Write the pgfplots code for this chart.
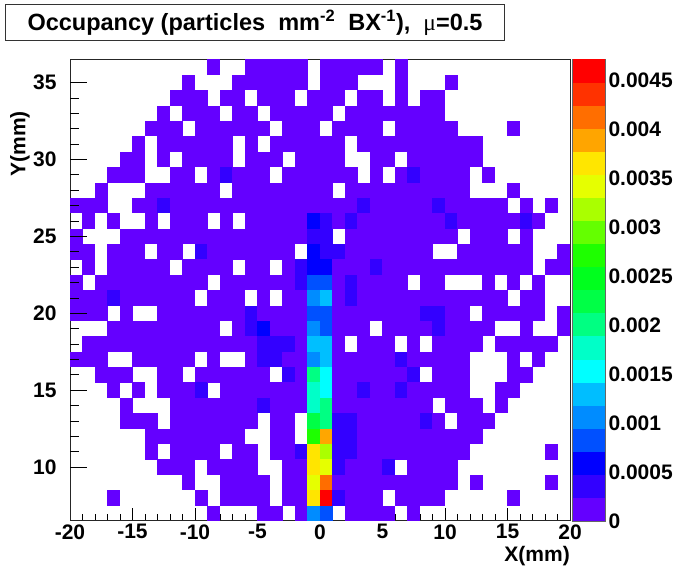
\documentclass[border=0pt]{standalone}
\usepackage{fontspec}
\setmainfont{Liberation Sans}
\newfontfamily\symfont{Liberation Serif}
\usepackage{pgfplots}
\usepackage{pgfplotstable}
\pgfplotsset{compat=1.18}
\pgfdeclareplotmark{cell}{\pgfpathrectangle{\pgfpoint{-6.3pt}{-7.75pt}}{\pgfpoint{12.6pt}{15.5pt}}\pgfusepathqfill}
\pgfdeclareplotmark{band}{\pgfpathrectangle{\pgfpoint{-16.25pt}{-11.6pt}}{\pgfpoint{32.5pt}{23.2pt}}\pgfusepathqfill}
\pgfplotsset{rootpal/.style={colormap={rootpal}{
 rgb255=(100,0,255) rgb255=(50,0,255) rgb255=(0,0,255) rgb255=(0,80,255) rgb255=(0,140,255)
 rgb255=(0,190,255) rgb255=(0,255,255) rgb255=(0,255,200) rgb255=(0,255,130) rgb255=(0,255,70)
 rgb255=(0,255,30) rgb255=(30,255,0) rgb255=(100,255,0) rgb255=(170,255,0) rgb255=(230,255,0)
 rgb255=(255,230,0) rgb255=(255,165,0) rgb255=(255,110,0) rgb255=(255,50,0) rgb255=(255,0,0)},
 point meta min=1.18, point meta max=45.99}}
% occupancy in units of 1e-4 particles mm^-2 BX^-1; 0 = empty bin; rows are Y bins, columns c0..c39 are X bins from -19.5 to 19.5
\pgfplotstableread{
y c0 c1 c2 c3 c4 c5 c6 c7 c8 c9 c10 c11 c12 c13 c14 c15 c16 c17 c18 c19 c20 c21 c22 c23 c24 c25 c26 c27 c28 c29 c30 c31 c32 c33 c34 c35 c36 c37 c38 c39
36 0 0 0 0 0 0 0 0 0 0  0 1.2 0 0 1.2 1.2 1.2 1.2 1.2 0  1.2 1.2 1.2 1.2 1.2 0 1.2 0 0 0  0 0 0 0 0 0 0 0 0 0
35 0 0 0 0 0 0 0 0 0 1.2  0 0 0 1.2 1.2 1.2 1.2 1.2 1.2 0  1.2 1.2 1.2 0 0 0 1.2 0 0 0  1.2 0 0 0 0 0 0 0 0 0
34 0 0 0 0 0 0 0 0 1.2 1.2  1.2 0 1.2 1.2 0 1.2 1.2 1.2 0 1.2  1.2 1.2 0 1.2 1.2 0 1.2 0 1.2 1.2  0 0 0 0 0 0 0 0 0 0
33 0 0 0 0 0 0 0 1.2 0 1.2  1.2 1.2 0 1.2 1.2 0 1.2 1.2 1.2 1.2  1.2 0 1.2 1.2 1.2 1.2 1.2 1.2 1.2 1.2  0 0 0 0 0 0 0 0 0 0
32 0 0 0 0 0 0 1.2 1.2 1.2 0  1.2 1.2 1.2 1.2 1.2 1.2 0 1.2 1.2 1.2  0 1.2 1.2 1.2 1.2 0 1.2 1.2 1.2 1.2  1.2 0 0 0 0 1.2 0 0 0 0
31 0 0 0 0 0 1.2 0 1.2 1.2 1.2  1.2 1.2 1.2 0 1.2 0 1.2 1.2 1.2 1.2  1.2 1.2 0 1.2 1.2 1.2 1.2 1.2 1.2 1.2  1.2 1.2 1.2 0 0 0 0 0 0 0
30 0 0 0 0 1.2 1.2 0 1.2 0 1.2  1.2 1.2 1.2 0 1.2 1.2 1.2 0 1.2 1.2  1.2 1.2 0 0 1.2 1.2 0 1.2 1.2 1.2  1.2 1.2 1.2 0 0 0 0 0 0 0
29 0 0 0 1.2 1.2 1.2 0 0 1.2 1.2  0 1.2 3.5 1.2 1.2 1.2 0 1.2 1.2 1.2  1.2 1.2 1.2 0 1.2 0 1.2 3.5 1.2 1.2  1.2 1.2 0 1.2 0 0 0 0 0 0
28 0 0 1.2 0 0 0 1.2 1.2 1.2 1.2  1.2 1.2 0 1.2 1.2 1.2 1.2 1.2 1.2 1.2  1.2 0 1.2 1.2 1.2 1.2 1.2 1.2 1.2 1.2  1.2 1.2 0 0 0 1.2 0 0 0 0
27 1.2 1.2 1.2 0 0 1.2 1.2 3.5 1.2 1.2  1.2 1.2 1.2 1.2 1.2 1.2 1.2 1.2 1.2 1.2  1.2 1.2 1.2 3.5 1.2 1.2 1.2 1.2 1.2 3.5  1.2 1.2 1.2 1.2 1.2 0 1.2 0 1.2 0
26 0 1.2 0 1.2 0 0 1.2 0 1.2 1.2  1.2 0 1.2 0 1.2 1.2 1.2 1.2 1.2 5.9  3.5 1.2 3.5 1.2 1.2 1.2 1.2 1.2 1.2 1.2  3.5 1.2 1.2 1.2 1.2 1.2 3.5 1.2 0 0
25 1.2 0 0 0 1.2 1.2 1.2 1.2 1.2 1.2  1.2 1.2 1.2 1.2 1.2 1.2 1.2 1.2 1.2 3.5  3.5 0 1.2 1.2 1.2 1.2 1.2 1.2 1.2 1.2  1.2 0 1.2 1.2 1.2 0 1.2 0 0 0
24 1.2 1.2 0 1.2 1.2 1.2 0 1.2 1.2 0  3.5 1.2 1.2 1.2 1.2 1.2 1.2 1.2 0 5.9  3.5 3.5 1.2 1.2 1.2 1.2 1.2 1.2 1.2 0  0 1.2 1.2 1.2 1.2 1.2 1.2 0 0 1.2
23 0 1.2 0 1.2 1.2 1.2 1.2 1.2 0 1.2  1.2 1.2 1.2 0 1.2 1.2 0 1.2 3.5 5.9  5.9 1.2 1.2 1.2 3.5 1.2 1.2 1.2 1.2 1.2  1.2 1.2 1.2 1.2 1.2 1.2 1.2 0 1.2 1.2
22 1.2 0 1.2 1.2 1.2 1.2 1.2 1.2 1.2 1.2  1.2 0 1.2 1.2 1.2 1.2 1.2 1.2 3.5 8.3  8.3 1.2 3.5 1.2 1.2 1.2 1.2 0 1.2 1.2  0 0 0 1.2 0 1.2 0 1.2 0 0
21 1.2 1.2 1.2 3.5 1.2 1.2 1.2 1.2 1.2 1.2  0 1.2 1.2 1.2 0 1.2 0 1.2 1.2 10.6  13 1.2 3.5 1.2 1.2 1.2 1.2 1.2 1.2 1.2  1.2 1.2 1.2 1.2 1.2 0 1.2 1.2 0 0
20 1.2 1.2 1.2 0 1.2 0 0 1.2 1.2 1.2  1.2 1.2 1.2 1.2 3.5 1.2 1.2 1.2 1.2 8.3  8.3 1.2 1.2 1.2 1.2 1.2 1.2 1.2 3.5 3.5  1.2 1.2 0 1.2 1.2 1.2 1.2 1.2 0 1.2
19 0 0 0 1.2 1.2 1.2 1.2 1.2 1.2 1.2  1.2 1.2 0 1.2 3.5 5.9 1.2 1.2 1.2 10.6  8.3 1.2 1.2 1.2 0 1.2 1.2 1.2 1.2 3.5  1.2 1.2 1.2 1.2 0 0 1.2 0 0 1.2
18 0 1.2 1.2 1.2 1.2 1.2 1.2 1.2 1.2 1.2  1.2 1.2 1.2 1.2 1.2 3.5 3.5 3.5 1.2 13  13 1.2 0 1.2 1.2 1.2 0 1.2 0 1.2  1.2 1.2 1.2 0 1.2 1.2 1.2 1.2 1.2 0
17 1.2 1.2 1.2 0 0 1.2 1.2 1.2 1.2 1.2  0 1.2 0 0 1.2 3.5 3.5 1.2 1.2 10.6  13 1.2 1.2 1.2 1.2 1.2 3.5 1.2 1.2 1.2  1.2 1.2 0 0 0 1.2 0 1.2 0 0
16 0 0 1.2 1.2 1.2 0 0 1.2 1.2 0  1.2 1.2 1.2 1.2 1.2 1.2 0 3.5 1.2 20  15.3 1.2 1.2 1.2 1.2 1.2 1.2 3.5 0 1.2  1.2 1.2 0 0 0 1.2 1.2 0 0 0
15 0 0 0 1.2 0 1.2 0 1.2 1.2 1.2  3.5 0 1.2 1.2 1.2 1.2 1.2 1.2 1.2 17.7  15.3 1.2 1.2 3.5 1.2 1.2 3.5 1.2 1.2 1.2  1.2 1.2 0 0 1.2 1.2 0 0 0 0
14 0 0 0 0 1.2 0 0 0 1.2 1.2  1.2 1.2 1.2 1.2 1.2 3.5 1.2 1.2 1.2 17.7  20 1.2 1.2 1.2 1.2 1.2 1.2 1.2 1.2 0  1.2 1.2 1.2 0 1.2 0 0 0 0 0
13 0 0 0 0 1.2 1.2 1.2 0 1.2 1.2  1.2 1.2 1.2 1.2 1.2 0 1.2 1.2 0 22.4  20 3.5 3.5 1.2 1.2 1.2 1.2 1.2 3.5 1.2  0 1.2 1.2 1.2 0 0 0 0 0 0
12 0 0 0 0 0 0 1.2 1.2 1.2 1.2  1.2 1.2 1.2 1.2 0 0 1.2 1.2 0 27.1  38.9 3.5 3.5 1.2 1.2 1.2 1.2 1.2 1.2 1.2  1.2 1.2 1.2 0 0 0 0 0 0 0
11 0 0 0 0 0 0 1.2 0 1.2 1.2  1.2 1.2 0 1.2 1.2 0 1.2 1.2 3.5 36.6  31.9 3.5 3.5 1.2 1.2 1.2 1.2 1.2 1.2 1.2  1.2 1.2 0 0 0 0 0 0 1.2 0
10 0 0 0 0 0 0 0 1.2 1.2 1.2  0 1.2 1.2 1.2 1.2 0 0 1.2 1.2 36.6  34.2 3.5 1.2 1.2 1.2 3.5 0 1.2 1.2 1.2  1.2 0 0 0 0 0 0 0 0 0
9 0 0 0 0 0 0 0 0 0 1.2  0 0 1.2 1.2 1.2 1.2 0 1.2 1.2 34.2  41.3 1.2 1.2 1.2 1.2 1.2 1.2 1.2 1.2 1.2  1.2 0 1.2 0 0 0 0 0 1.2 0
8 0 0 0 1.2 0 0 0 0 0 0  1.2 0 1.2 1.2 1.2 1.2 0 1.2 1.2 36.6  46 3.5 1.2 1.2 1.2 0 1.2 1.2 1.2 1.2  0 0 0 0 0 1.2 0 0 0 0
7 0 0 0 0 0 0 0 0 0 0  0 1.2 0 0 0 1.2 1.2 0 1.2 10.6  8.3 0 1.2 1.2 1.2 1.2 0 1.2 0 0  0 0 0 0 0 0 0 0 0 0
}\occtable
\pgfplotstableread{
y meta
0.000118 1.18
0.000354 3.54
0.000590 5.90
0.000825 8.25
0.001061 10.61
0.001297 12.97
0.001533 15.33
0.001769 17.69
0.002005 20.05
0.002241 22.41
0.002476 24.76
0.002712 27.12
0.002948 29.48
0.003184 31.84
0.003420 34.20
0.003656 36.56
0.003892 38.92
0.004128 41.28
0.004363 43.63
0.004599 45.99
}\scaletable
\newcommand\tickfont{\fontsize{21}{24}\selectfont\bfseries}
\begin{document}
\begin{tikzpicture}[x=1pt,y=1pt]
\path[use as bounding box] (0,0) rectangle (676,569);
% main map, with the x ticks
\begin{axis}[
  at={(70pt,48pt)}, anchor=south west, scale only axis, width=500pt, height=461.5pt,
  rootpal, xmin=-20, xmax=20, ymin=6.5, ymax=36.5,
  axis on top, clip=true, tick align=inside, tick style={black, line width=0.8pt},
  axis line style={line width=1pt, black!85},
  xtick={-20,-15,-10,-5,0,5,10,15,20},
  xticklabels={-20,-15,-10,-5,0,5,10,15,20},
  minor x tick num=4, xtick pos=bottom, ytick=\empty,
  major tick length=13pt, minor tick length=6.5pt,
  xticklabel style={font=\tickfont},
]
\pgfplotsinvokeforeach{0,...,39}{
  \addplot[scatter, only marks, mark=cell, point meta=explicit, scatter src=explicit]
    table[x expr=#1-19.5, y expr={\thisrow{c#1}>0 ? \thisrow{y} : nan}, meta=c#1] {\occtable};
}
\end{axis}
% y ticks
\begin{axis}[
  at={(70pt,48pt)}, anchor=south west, scale only axis, width=500pt, height=461.5pt,
  xmin=-20, xmax=20, ymin=6.5, ymax=36.5,
  hide x axis, axis y line*=left, y axis line style={draw=none},
  tick align=inside, tick style={black, line width=0.8pt},
  ytick={10,15,20,25,30,35}, minor y tick num=4,
  major tick length=17pt, minor tick length=8.5pt,
  yticklabel style={font=\tickfont, xshift=-10pt, /pgf/number format/assume math mode=true},
]
\addplot[draw=none] coordinates {(-20,6.5)};
\end{axis}
% colour scale
\begin{axis}[
  at={(572.5pt,48pt)}, anchor=south west, scale only axis, width=32.5pt, height=461.5pt,
  rootpal, xmin=0, xmax=1, ymin=0, ymax=0.004717,
  axis on top, xtick=\empty, tick align=inside, ytick pos=right, yticklabel pos=right,
  axis line style={line width=0.8pt, black!60},
  tick style={black, line width=0.8pt},
  scaled y ticks=false,
  ytick={0,0.0005,0.001,0.0015,0.002,0.0025,0.003,0.0035,0.004,0.0045},
  yticklabels={0,0.0005,0.001,0.0015,0.002,0.0025,0.003,0.0035,0.004,0.0045},
  major tick length=17pt,
  yticklabel style={font=\tickfont},
]
\addplot[scatter, only marks, mark=band, point meta=explicit, scatter src=explicit]
  table[x expr=0.5, y=y, meta=meta] {\scaletable};
\end{axis}
% title and axis titles
\node[draw=black!80, line width=1pt, fill=white, minimum width=499pt, minimum height=36pt, inner sep=0pt, anchor=center] at (255,546.5)
  {\fontsize{23.5}{27}\selectfont\bfseries Occupancy (particles\ \ mm\textsuperscript{-2}\ \ BX\textsuperscript{-1}),\ \ {\symfont\mdseries μ}=0.5};
\node[anchor=east, inner sep=0pt] at (570,13) {\tickfont X(mm)};
\node[anchor=east, rotate=90, inner sep=0pt] at (20,458) {\tickfont Y(mm)};
\end{tikzpicture}
\end{document}
